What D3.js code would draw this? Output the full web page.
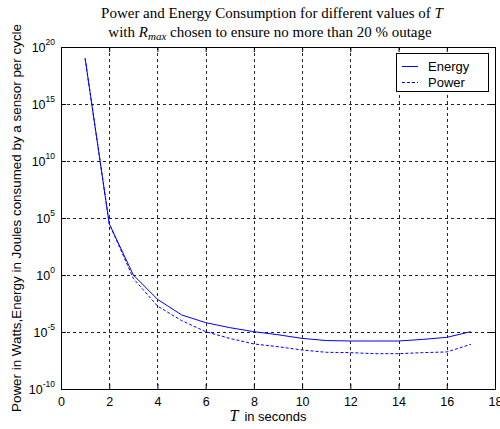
<!DOCTYPE html>
<html>
<head>
<meta charset="utf-8">
<script src="https://cdn.jsdelivr.net/npm/d3@7"></script>
<style>
  body { margin: 0; background: #fff; }
  text { font-family: "Liberation Sans", Arial, sans-serif; }
  .serif { font-family: "Liberation Serif", "Times New Roman", serif; }
</style>
</head>
<body>
<div id="chart"></div>
<script>
// T values (seconds)
var periods = [1, 2, 3, 4, 5, 6, 7, 8, 9, 10, 11, 12, 13, 14, 15, 16, 17];
// log10 of energy per cycle (J)
var energyLog = [19.0, 4.5, 0.0, -2.13, -3.5, -4.18, -4.62, -4.97, -5.24, -5.56, -5.75, -5.79, -5.79, -5.79, -5.65, -5.47, -4.97];
// log10 of power (W)
var powerLog = [19.0, 4.5, -0.3, -2.72, -4.0, -4.97, -5.56, -6.05, -6.29, -6.58, -6.78, -6.81, -6.9, -6.9, -6.81, -6.75, -6.08];
var xTicks = [0, 2, 4, 6, 8, 10, 12, 14, 16, 18];
var yTickExp = [-10, -5, 0, 5, 10, 15, 20];

var width = 500, height = 429;
var margin = {left: 61, right: 5, top: 47, bottom: 40};
var plotW = width - margin.left - margin.right,
    plotH = height - margin.top - margin.bottom;

var svg = d3.select("#chart").append("svg")
    .attr("width", width)
    .attr("height", height);

var x = d3.scaleLinear().domain([0, 18]).range([0, plotW]);
var y = d3.scaleLog().domain([1e-10, 1e20]).range([plotH, 0]);

var canvas = svg.append("g")
    .attr("transform", "translate(" + margin.left + "," + margin.top + ")");

// grid
canvas.append("g").selectAll("line")
    .data(xTicks.slice(1, -1))
    .enter().append("line")
    .attr("x1", function(d) { return Math.round(x(d)) + 0.5; })
    .attr("x2", function(d) { return Math.round(x(d)) + 0.5; })
    .attr("y1", 0).attr("y2", plotH)
    .attr("stroke", "#222").attr("stroke-dasharray", "3,3");
canvas.append("g").selectAll("line")
    .data(yTickExp.slice(1, -1))
    .enter().append("line")
    .attr("y1", function(d) { return Math.round(y(Math.pow(10, d))) + 0.5; })
    .attr("y2", function(d) { return Math.round(y(Math.pow(10, d))) + 0.5; })
    .attr("x1", 0).attr("x2", plotW)
    .attr("stroke", "#222").attr("stroke-dasharray", "3,3");

// axes with inward ticks
var xAxisB = d3.axisBottom(x).tickValues(xTicks).tickSize(-5).tickPadding(8);
var gx = canvas.append("g")
    .attr("transform", "translate(0," + plotH + ")")
    .call(xAxisB);
gx.selectAll("text").attr("font-size", "12.5px").attr("fill", "#000")
  .attr("font-family", "Liberation Sans, Arial, sans-serif");
canvas.append("g")
    .call(d3.axisTop(x).tickValues(xTicks).tickSize(-5).tickFormat(""));

var yAxisL = d3.axisLeft(y)
    .tickValues(yTickExp.map(function(e) { return Math.pow(10, e); }))
    .tickSize(-5).tickPadding(6).tickFormat("");
canvas.append("g").call(yAxisL);
canvas.append("g")
    .attr("transform", "translate(" + plotW + ",0)")
    .call(d3.axisRight(y).tickValues(yTickExp.map(function(e) { return Math.pow(10, e); }))
        .tickSize(-5).tickFormat(""));

// y tick labels 10^e
var ylab = canvas.append("g").selectAll("text")
    .data(yTickExp)
    .enter().append("text")
    .attr("x", -6)
    .attr("y", function(d) { return y(Math.pow(10, d)) + 5; })
    .attr("text-anchor", "end")
    .attr("font-size", "12.5px");
ylab.append("tspan").text("10");
ylab.append("tspan").attr("dy", -7).attr("font-size", "8.5px")
    .text(function(d) { return d; });

canvas.selectAll(".domain").attr("stroke", "#000");
canvas.selectAll(".tick line").attr("stroke", "#000");
canvas.append("rect")
    .attr("x", 0.5).attr("y", 0.5)
    .attr("width", plotW).attr("height", plotH)
    .attr("fill", "none").attr("stroke", "#000");

// curves
var line = d3.line()
    .x(function(d) { return x(d[0]); })
    .y(function(d) { return y(Math.pow(10, d[1])); });
canvas.append("path")
    .datum(periods.map(function(t, i) { return [t, energyLog[i]]; }))
    .attr("fill", "none").attr("stroke", "#0000ff").attr("stroke-width", 1)
    .attr("d", line);
canvas.append("path")
    .datum(periods.map(function(t, i) { return [t, powerLog[i]]; }))
    .attr("fill", "none").attr("stroke", "#0000ff").attr("stroke-width", 1)
    .attr("stroke-dasharray", "3,2")
    .attr("d", line);

// legend
var lg = svg.append("g").attr("transform", "translate(396,53)");
lg.append("rect").attr("x", 0.5).attr("y", 0.5).attr("width", 92).attr("height", 38)
    .attr("fill", "#fff").attr("stroke", "#000");
var legendItems = [["Energy", null], ["Power", "3,2"]];
legendItems.forEach(function(it, i) {
    var yy = 13 + i * 16;
    lg.append("line").attr("x1", 6).attr("x2", 22).attr("y1", yy + 0.5).attr("y2", yy + 0.5)
        .attr("stroke", "#0000ff").attr("stroke-dasharray", it[1]);
    lg.append("text").attr("x", 32).attr("y", yy + 4.5).attr("font-size", "13px").text(it[0]);
});

// title
var t1 = svg.append("text").attr("class", "serif")
    .attr("x", 272).attr("y", 18).attr("text-anchor", "middle").attr("font-size", "15px");
t1.append("tspan").text("Power and Energy Consumption for different values of ");
t1.append("tspan").attr("font-style", "italic").text("T");
var t2 = svg.append("text").attr("class", "serif")
    .attr("x", 270).attr("y", 37).attr("text-anchor", "middle").attr("font-size", "15px");
t2.append("tspan").text("with ");
t2.append("tspan").attr("font-style", "italic").text("R");
t2.append("tspan").attr("font-style", "italic").attr("font-size", "11px").attr("dy", 3).text("max");
t2.append("tspan").attr("dy", -3).text(" chosen to ensure no more than 20 % outage");

// x label
var xl = svg.append("text").attr("x", 268).attr("y", 421)
    .attr("text-anchor", "middle").attr("font-size", "13px");
xl.append("tspan").attr("class", "serif").attr("font-style", "italic").attr("font-size", "16px").text("T");
xl.append("tspan").attr("dx", 6).text("in seconds");

// y label
svg.append("text")
    .attr("transform", "translate(21,218) rotate(-90)")
    .attr("text-anchor", "middle").attr("font-size", "13.4px")
    .text("Power in Watts,Energy in Joules consumed by a sensor per cycle");
</script>
</body>
</html>
